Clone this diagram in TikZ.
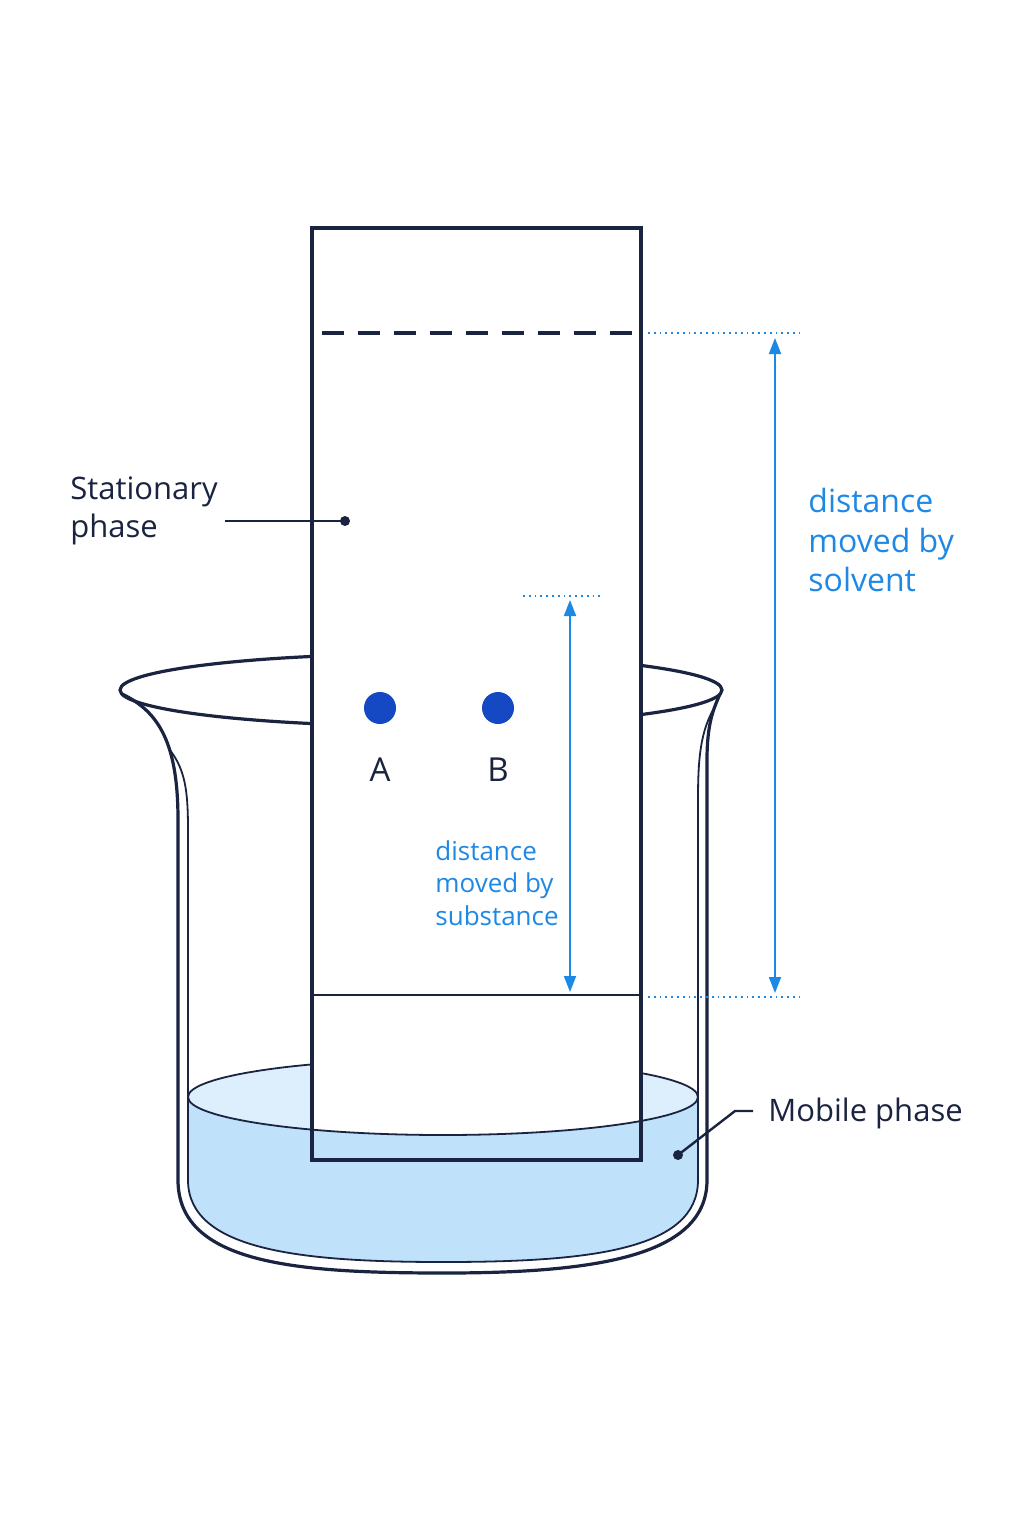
\documentclass[tikz,border=0pt]{standalone}
\usepackage{fontspec}
\setmainfont{Open Sans}
\usetikzlibrary{arrows.meta}
\definecolor{navy}{HTML}{1A2340}
\definecolor{lblue}{HTML}{1E88E5}
\definecolor{dotb}{HTML}{1549C4}
\definecolor{liq}{HTML}{BFE1FA}
\definecolor{liqtop}{HTML}{DDEFFC}
\begin{document}
\begin{tikzpicture}[x=0.5pt,y=-0.5pt,
  ln/.style={navy,line width=1.6pt},
  thin/.style={navy,line width=0.9pt},
  dim/.style={lblue,line width=0.9pt,{Triangle[length=8pt,width=6pt]}-{Triangle[length=8pt,width=6pt]}},
  dots/.style={lblue,line width=0.9pt,dotted},
  lab/.style={font=\fontsize{15.5}{19}\selectfont,align=left,anchor=north west,inner sep=0},
  blab/.style={lab,text=lblue}]
\useasboundingbox[fill=white] (0,0) rectangle (1024,1536);
% liquid
\fill[liq] (188,1097) -- (188,1180) .. controls (188,1250) and (300,1262) .. (443,1262) .. controls (590,1262) and (698,1250) .. (698,1180) -- (698,1097) arc[x radius=255,y radius=38,start angle=0,end angle=180];
\draw[thin,fill=liqtop] (443,1097) ellipse[x radius=255,y radius=38];
\draw[thin] (188,1097) -- (188,1180) .. controls (188,1250) and (300,1262) .. (443,1262) .. controls (590,1262) and (698,1250) .. (698,1180) -- (698,1097);
% beaker
\draw[ln] (421,690) ellipse[x radius=301,y radius=36];
\draw[ln] (122,694) .. controls (160,712) and (178,745) .. (178,820) -- (178,1180) .. controls (178,1265) and (300,1273) .. (445,1273) .. controls (600,1273) and (707,1255) .. (707,1180) -- (707,760) .. controls (707,722) and (714,708) .. (720,694);
\draw[thin] (170,750) .. controls (185,770) and (188,790) .. (188,830) -- (188,1100);
\draw[thin] (716,705) .. controls (700,730) and (698,760) .. (698,800) -- (698,1100);
% paper
\draw[ln,fill=white] (312,228) rectangle (641,1160);
\begin{scope}
\clip (312,228) rectangle (641,1160);
\fill[liq] (188,1097) arc[x radius=255,y radius=38,start angle=180,end angle=0] -- (698,1170) -- (188,1170) -- cycle;
\draw[thin] (188,1097) arc[x radius=255,y radius=38,start angle=180,end angle=0];
\end{scope}
\draw[ln] (312,228) rectangle (641,1160);
\draw[ln,dash pattern=on 11pt off 7pt] (322,333) -- (638,333);
\draw[thin] (312,995) -- (641,995);
% spots
\fill[dotb] (380,708) circle (16);
\fill[dotb] (498,708) circle (16);
\node[font=\fontsize{16.5}{19}\selectfont,text=navy] (A) at (380,770) {A};
\node[font=\fontsize{16.5}{19}\selectfont,text=navy] (B) at (498,770) {B};
% dimensions
\coordinate (s1) at (648,333); \coordinate (s2) at (800,333);
\coordinate (o1) at (648,997); \coordinate (o2) at (800,997);
\coordinate (p1) at (523,596); \coordinate (p2) at (603,596);
\draw[dots] (s1) -- (s2); \draw[dots] (o1) -- (o2); \draw[dots] (p1) -- (p2);
\coordinate (a1) at (775,338); \coordinate (a2) at (775,993);
\coordinate (b1) at (570,600); \coordinate (b2) at (570,992);
\draw[dim] (a1) -- (a2);
\draw[dim] (b1) -- (b2);
\node[blab,font=\fontsize{16}{19.8}\selectfont] (ds) at (808,488) {distance\\moved by\\solvent};
\node[blab,font=\fontsize{13}{16.3}\selectfont] (dsub) at (435,840) {distance\\moved by\\substance};
% labels
\node[lab,text=navy] (sp) at (70,476) {Stationary\\phase};
\coordinate (spd) at (345,521);
\draw[thin,line width=1.2pt] (225,521) -- (spd);
\fill[navy] (spd) circle (5);
\node[lab,text=navy,anchor=west] (mp) at (768,1113) {Mobile phase};
\coordinate (mpd) at (678,1155);
\draw[thin,line width=1.2pt] (753,1111) -- (735,1111) -- (mpd);
\fill[navy] (mpd) circle (5);
\end{tikzpicture}
\end{document}
